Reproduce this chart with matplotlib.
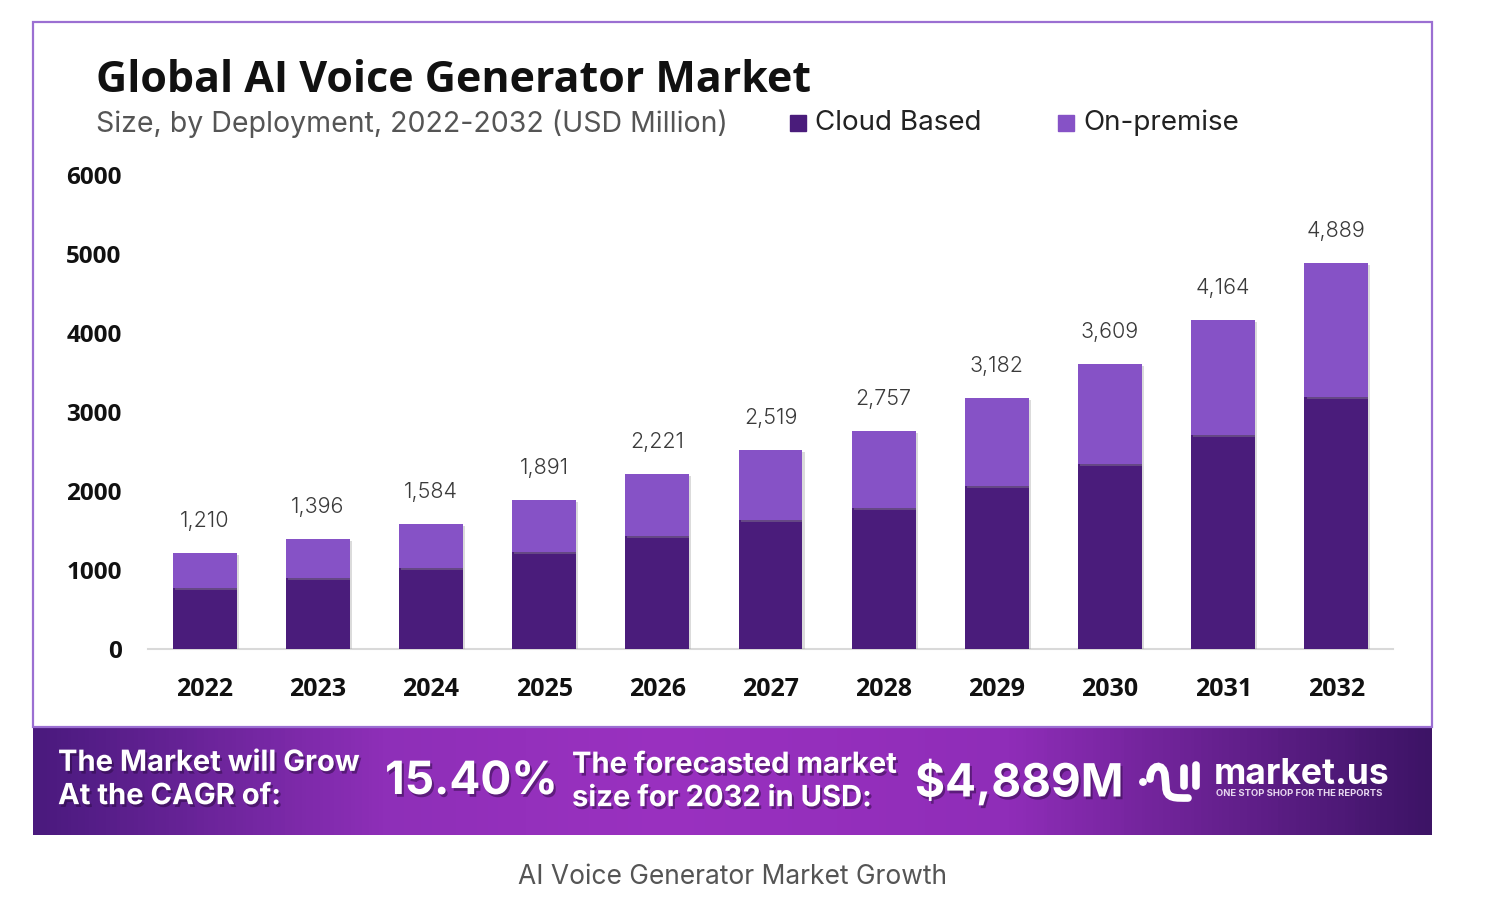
import numpy as np
import matplotlib.pyplot as plt
from matplotlib.colors import LinearSegmentedColormap
from matplotlib.patches import Rectangle, PathPatch, Circle
from matplotlib.path import Path
import matplotlib.patheffects as pe

years = ["2022", "2023", "2024", "2025", "2026", "2027", "2028", "2029", "2030", "2031", "2032"]
totals = [1210, 1396, 1584, 1891, 2221, 2519, 2757, 3182, 3609, 4164, 4889]
cloud_based = [772, 899, 1025, 1228, 1430, 1633, 1785, 2063, 2342, 2709, 3190]
on_premise = [t - c for t, c in zip(totals, cloud_based)]
y_ticks = [0, 1000, 2000, 3000, 4000, 5000, 6000]

CLOUD = "#4a1c7b"
ONPREM = "#8652c6"
W, H = 1497, 919

fig = plt.figure(figsize=(W / 100, H / 100), dpi=100)
fig.patch.set_facecolor("white")


def fx(px):
    return px / W


def fy(py):
    return 1 - py / H


# chart frame
fig.patches.append(Rectangle((fx(33), fy(727)), fx(1432) - fx(33), fy(22) - fy(727),
                             transform=fig.transFigure, fill=False,
                             edgecolor="#9b6fd2", linewidth=1.6, zorder=0))

# main axes
ax = fig.add_axes([fx(148), fy(649), fx(1393) - fx(148), fy(175) - fy(649)])
x = np.arange(len(years))
shadow = [pe.SimplePatchShadow(offset=(1.5, -1.5), shadow_rgbFace="#999999", alpha=0.35), pe.Normal()]
ax.bar(x, cloud_based, width=0.565, color=CLOUD, zorder=3, path_effects=shadow)
ax.bar(x, on_premise, bottom=cloud_based, width=0.565, color=ONPREM, zorder=3, path_effects=shadow)
for xi, t in zip(x, totals):
    ax.annotate(f"{t:,}", (xi, t), xytext=(0, 23), textcoords="offset points",
                ha="center", va="center", fontsize=15.5, color="#3a3a3a", family="Inter",
                fontweight=300)

ax.set_xlim(-0.5, len(years) - 0.5)
ax.set_ylim(0, 6000)
ax.set_yticks(y_ticks)
ax.set_yticklabels([str(v) for v in y_ticks], fontsize=17.5, fontweight="bold", family="Open Sans",
                   color="#111111")
ax.set_xticks(x)
ax.set_xticklabels(years, fontsize=18, fontweight="bold", family="Open Sans", color="#111111")
ax.tick_params(axis="both", length=0)
ax.tick_params(axis="y", pad=19)
ax.tick_params(axis="x", pad=20)
for s in ["top", "right", "left"]:
    ax.spines[s].set_visible(False)
ax.spines["bottom"].set_color("#d9d9d9")
ax.spines["bottom"].set_linewidth(1.5)
ax.spines["bottom"].set_zorder(1)

# titles and legend
fig.text(fx(96), fy(80), "Global AI Voice Generator Market", fontsize=31, fontweight="bold",
         family="Open Sans", color="#111111", va="center", ha="left")
fig.text(fx(96), fy(124), "Size, by Deployment, 2022-2032 (USD Million)", fontsize=20.5,
         family="Inter", color="#555555", va="center", ha="left")
for px, label, col in [(790, "Cloud Based", CLOUD), (1058, "On-premise", ONPREM)]:
    fig.patches.append(Rectangle((fx(px), fy(131)), fx(16), 16 / H, transform=fig.transFigure,
                                 color=col))
    fig.text(fx(px + 25), fy(123), label, fontsize=20, family="Inter", color="#222222",
             va="center", ha="left")

# bottom banner with gradient
bax = fig.add_axes([fx(33), fy(835), fx(1432) - fx(33), fy(727) - fy(835)])
cmap = LinearSegmentedColormap.from_list("band", [(0, "#4a1a7e"), (0.25, "#8e2fb8"), (0.45, "#9a31c0"),
                                                   (0.7, "#8f2db8"), (1, "#3d1466")])
bax.imshow(np.linspace(0, 1, 400)[None, :], aspect="auto", cmap=cmap, extent=[0, 1, 0, 1])
bax.set_xlim(0, 1)
bax.set_ylim(0, 1)
bax.axis("off")

glow = [pe.withSimplePatchShadow(offset=(1.5, -2), shadow_rgbFace="#2a0a40", alpha=0.5)]
fig.text(fx(58), fy(780), "The Market will Grow\nAt the CAGR of:", fontsize=21, fontweight="bold",
         family="Inter", color="white", va="center", ha="left", linespacing=1.3, path_effects=glow)
fig.text(fx(385), fy(782), "15.40%", fontsize=33, fontweight="bold", family="Inter",
         color="white", va="center", ha="left", path_effects=glow)
fig.text(fx(572), fy(782), "The forecasted market\nsize for 2032 in USD:", fontsize=21,
         fontweight="bold", family="Inter", color="white", va="center", ha="left",
         linespacing=1.3, path_effects=glow)
fig.text(fx(915), fy(782), "$4,889M", fontsize=33, fontweight="bold", family="Inter",
         color="white", va="center", ha="left", path_effects=glow)

# logo mark drawn in pixel space
lax = fig.add_axes([0, 0, 1, 1], facecolor="none")
lax.set_xlim(0, W)
lax.set_ylim(H, 0)
lax.axis("off")
wave = Path([(1150, 779), (1150, 764), (1164, 762), (1165, 776), (1166, 787),
             (1166, 799), (1176, 798), (1188, 798)],
            [Path.MOVETO, Path.CURVE4, Path.CURVE4, Path.CURVE4, Path.LINETO,
             Path.CURVE4, Path.CURVE4, Path.CURVE4])
lax.add_patch(PathPatch(wave, fill=False, edgecolor="white", linewidth=5.5, capstyle="round"))
lax.add_patch(Circle((1143, 782), 3.2, color="white"))
lax.plot([1184, 1184], [768, 786], color="white", linewidth=5.5, solid_capstyle="round")
lax.plot([1196, 1196], [765, 786], color="white", linewidth=5.5, solid_capstyle="round")

fig.text(fx(1214), fy(775), "market.us", fontsize=25.5, fontweight="bold", family="Inter",
         color="white", va="center", ha="left")
fig.text(fx(1216), fy(794), "ONE STOP SHOP FOR THE REPORTS", fontsize=6.8, fontweight="bold",
         family="Inter", color="#e8d8f0", va="center", ha="left")

# caption
fig.text(fx(732), fy(877), "AI Voice Generator Market Growth", fontsize=19, family="Inter",
         color="#555555", va="center", ha="center")

fig.savefig("out.png", dpi=100)
